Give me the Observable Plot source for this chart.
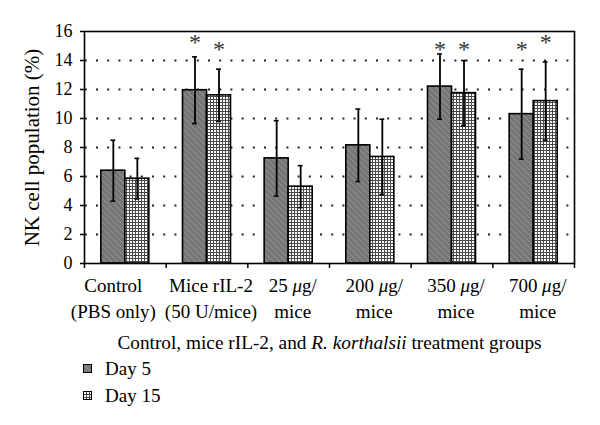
<!DOCTYPE html>
<html>
<head>
<meta charset="utf-8">
<script src="https://cdn.jsdelivr.net/npm/d3@7"></script>
<script src="https://cdn.jsdelivr.net/npm/@observablehq/plot@0.6"></script>
<style>
  html, body { margin: 0; padding: 0; background: #fff; }
  body { width: 600px; height: 425px; overflow: hidden; font-family: "Liberation Serif", "Times New Roman", serif; color: #000; }
  .legend { padding-left: 83px; font-size: 19px; }
  .legend .item { height: 27px; display: flex; align-items: center; }
  .legend svg { display: block; margin-right: 13px; }
</style>
</head>
<body>
<svg width="0" height="0" style="position:absolute">
  <defs>
    <pattern id="pDay5" patternUnits="userSpaceOnUse" width="6" height="6">
      <rect width="6" height="6" fill="#767676"></rect>
      <path d="M-1,-1 L7,7 M-1,5 L1,7 M5,-1 L7,1" stroke="#959595" stroke-width="1"></path>
    </pattern>
    <pattern id="pDay15" patternUnits="userSpaceOnUse" width="3" height="3">
      <rect width="3" height="3" fill="#ffffff"></rect>
      <path d="M0.5,0 L0.5,3 M0,0.5 L3,0.5" stroke="#4a4a4a" stroke-width="1"></path>
    </pattern>
  </defs>
</svg>
<div id="chart"></div>
<div class="legend">
  <div class="item"><svg width="9" height="9"><rect x="0.5" y="0.5" width="8" height="8" fill="url(#pDay5)" stroke="#000" stroke-width="1"></rect></svg><span>Day 5</span></div>
  <div class="item"><svg width="9" height="9"><rect x="0.5" y="0.5" width="8" height="8" fill="url(#pDay15)" stroke="#000" stroke-width="1"></rect></svg><span>Day 15</span></div>
</div>
<script>
// ---- data ----
const groups = ["Control\n(PBS only)", "Mice rIL-2\n(50 U/mice)", "25 μg/\nmice", "200 μg/\nmice", "350 μg/\nmice", "700 μg/\nmice"];
const seriesNames = ["Day 5", "Day 15"];
const day5 = [6.4, 11.95, 7.25, 8.15, 12.2, 10.3];
const day5Err = [2.1, 2.3, 2.6, 2.5, 2.25, 3.1];
const day15 = [5.85, 11.6, 5.3, 7.35, 11.75, 11.2];
const day15Err = [1.4, 1.8, 1.45, 2.6, 2.25, 2.7];
// significance asterisks (value-axis level where the * sits; null = none)
const day5Star = [null, 15.25, null, null, 14.75, 14.75];
const day15Star = [null, 14.75, null, null, 14.75, 15.25];
const yTicks = [0, 2, 4, 6, 8, 10, 12, 14, 16];
const gridLevels = [2, 4, 6, 8, 10, 12, 14];
const yTitle = "NK cell population (%)";
const xTitle = "Control, mice rIL-2, and R. korthalsii treatment groups";

// ---- table built from arrays ----
const barFrac = 0.294; // fraction of category width per bar
const rows = [];
groups.forEach((g, i) => {
  [[day5, day5Err, day5Star], [day15, day15Err, day15Star]].forEach(([v, e, s], k) => {
    const x1 = i + 0.5 + (k - 1) * barFrac;
    const x2 = x1 + barFrac;
    rows.push({
      i, series: seriesNames[k], value: v[i], err: e[i], star: s[i],
      x1, x2, cx: (x1 + x2) / 2,
      fill: k === 0 ? "url(#pDay5)" : "url(#pDay15)"
    });
  });
});
const capHalf = 0.03;
const catIdx = groups.map((g, i) => i);
const boundaries = d3.range(groups.length + 1);
const labelStyle = { frameAnchor: "bottom", dy: 33, text: i => groups[i], fontSize: 19, lineAnchor: "middle", lineHeight: 1.4 };

const chart = Plot.plot({
  width: 600,
  height: 355,
  marginTop: 31,
  marginLeft: 84,
  marginRight: 26,
  marginBottom: 92,
  style: { fontFamily: '"Liberation Serif", "Times New Roman", serif', fontSize: "18px", color: "#000", background: "#fff" },
  x: { type: "linear", domain: [0, groups.length], axis: null },
  y: { domain: [0, 16], axis: null },
  color: { type: "identity" },
  marks: [
    Plot.ruleY(gridLevels, { stroke: "#222", strokeWidth: 2, strokeDasharray: "2,9.2", strokeDashoffset: 10.4 }),
    Plot.rectY(rows, { x1: "x1", x2: "x2", y1: 0, y2: "value", fill: "fill", stroke: "#000", strokeWidth: 1.6 }),
    Plot.ruleX(rows, { x: "cx", y1: d => d.value - d.err, y2: d => d.value + d.err, stroke: "#000", strokeWidth: 1.8 }),
    Plot.ruleY(rows, { y: d => d.value + d.err, x1: d => d.cx - capHalf, x2: d => d.cx + capHalf, stroke: "#000", strokeWidth: 1.6 }),
    Plot.ruleY(rows, { y: d => d.value - d.err, x1: d => d.cx - capHalf, x2: d => d.cx + capHalf, stroke: "#000", strokeWidth: 1.6 }),
    Plot.text(rows.filter(d => d.star != null), { x: "cx", y: "star", text: () => "*", fontSize: 24, fill: "#333", lineAnchor: "middle" }),
    Plot.frame({ stroke: "#000", strokeWidth: 1.6 }),
    Plot.axisY(yTicks, { tickSize: 4, tickPadding: 8, fontSize: 18, strokeWidth: 1.5 }),
    Plot.axisX(boundaries, { tickSize: 5, tickFormat: () => "", strokeWidth: 1.5 }),
    Plot.text(catIdx.slice(0, 1), { ...labelStyle, x: i => i + 0.5, dx: -12 }),
    Plot.text(catIdx.slice(1), { ...labelStyle, x: i => i + 0.5, dx: 4 }),
    Plot.text([xTitle], { frameAnchor: "bottom", dy: 79, fontSize: 19.3, lineAnchor: "middle" }),
    Plot.text([yTitle], { frameAnchor: "left", rotate: -90, dx: -52, fontSize: 21, textAnchor: "middle", lineAnchor: "middle" })
  ]
});

// italic parts of labels
function italicize(root, word) {
  const svgNS = "http://www.w3.org/2000/svg";
  root.querySelectorAll("text, tspan").forEach(el => {
    if (el.children.length === 0 && el.textContent.includes(word)) {
      const parts = el.textContent.split(word);
      el.textContent = "";
      parts.forEach((p, k) => {
        if (k > 0) {
          const t = document.createElementNS(svgNS, "tspan");
          t.setAttribute("font-style", "italic");
          t.textContent = word;
          el.appendChild(t);
        }
        if (p) el.appendChild(document.createTextNode(p));
      });
    }
  });
}
italicize(chart, "μ");
italicize(chart, "R. korthalsii");
document.getElementById("chart").appendChild(chart);
</script>
</body>
</html>
